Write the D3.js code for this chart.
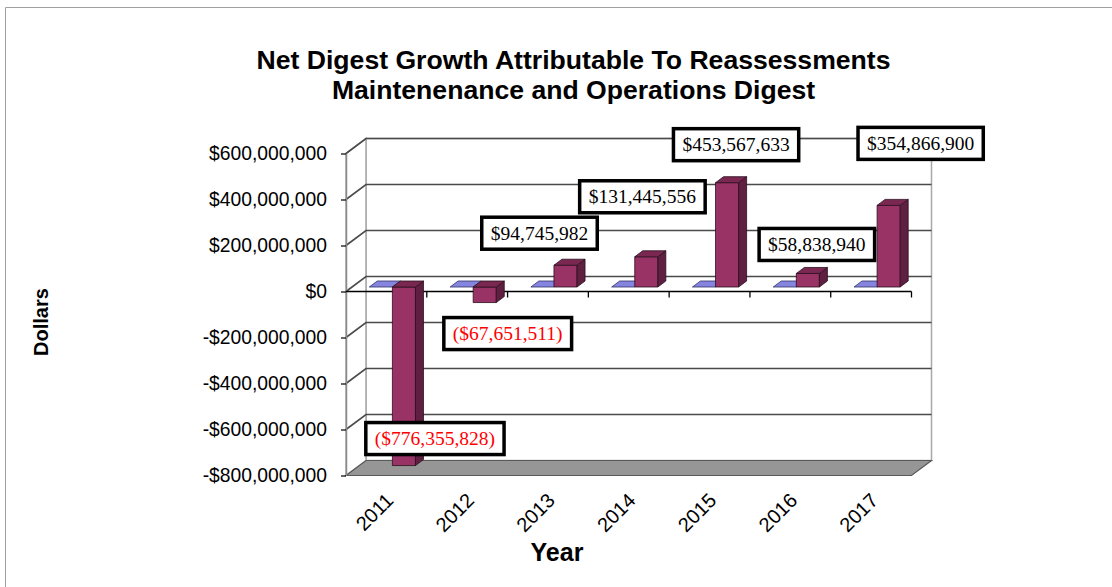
<!DOCTYPE html>
<html>
<head>
<meta charset="utf-8">
<script src="https://cdn.jsdelivr.net/npm/d3@7"></script>
<style>
  html, body { margin: 0; padding: 0; background: #fff; }
  svg { display: block; }
</style>
</head>
<body>
<svg id="chart" width="1112" height="587"></svg>
<script>
// ---- data ----
const years = ["2011", "2012", "2013", "2014", "2015", "2016", "2017"];
const baseSeries = [0, 0, 0, 0, 0, 0, 0];
const growthSeries = [-776355828, -67651511, 94745982, 131445556, 453567633, 58838940, 354866900];
const yTicks = [-800000000, -600000000, -400000000, -200000000, 0, 200000000, 400000000, 600000000];
const titleLines = ["Net Digest Growth Attributable To Reassessments", "Maintenenance and Operations Digest"];

// hand-placed label offsets (px) from the end of each bar's front face
const labelNudge = [[31, -27], [23, 31], [-26, -32], [-4, -60], [9, -38], [9, -29], [32, -62]];

// ---- layout ----
const W = 1112, H = 587;
const frontLeft = 346, frontRight = 911.5;
const DX = 20, DY = 15;          // depth offset of the back wall
const barD0 = 0.3, barD1 = 0.7;  // depth slab occupied by the columns

const svg = d3.select("#chart");

const y = d3.scaleLinear().domain([yTicks[0], yTicks[yTicks.length - 1]]).range([475.5, 153.5]);
const x = d3.scaleBand().domain(years).range([frontLeft, frontRight]).paddingInner(0).paddingOuter(0);
const series = ["base", "growth"];
const xs = d3.scaleBand().domain(series).range([0, x.bandwidth()]).paddingInner(0).paddingOuter(0.75);

const P = (px, v, d) => [px + d * DX, y(v) - d * DY];
const poly = pts => "M" + pts.map(p => p.join(",")).join("L") + "Z";

const vMin = y.domain()[0], vMax = y.domain()[1];

// outer chart border
svg.append("path")
  .attr("d", `M5.5,${H}V7.5H${W}`)
  .attr("fill", "none").attr("stroke", "#a0a0a0").attr("stroke-width", 1);

// back wall
svg.append("path")
  .attr("d", poly([P(frontLeft, vMax, 1), P(frontRight, vMax, 1), P(frontRight, vMin, 1), P(frontLeft, vMin, 1)]))
  .attr("fill", "#fff").attr("stroke", "#a8a8a8").attr("stroke-width", 1.5);

// side wall
svg.append("path")
  .attr("d", poly([P(frontLeft, vMax, 0), P(frontLeft, vMax, 1), P(frontLeft, vMin, 1), P(frontLeft, vMin, 0)]))
  .attr("fill", "#fff").attr("stroke", "#a8a8a8").attr("stroke-width", 1.5);

// gridlines on side + back wall
svg.append("g").selectAll("path")
  .data(yTicks.filter(v => v > vMin))
  .join("path")
  .attr("d", v => "M" + [P(frontLeft, v, 0), P(frontLeft, v, 1), P(frontRight, v, 1)].map(p => p.join(",")).join("L"))
  .attr("fill", "none").attr("stroke", "#4a4a4a").attr("stroke-width", 1.6);

// floor
svg.append("path")
  .attr("d", poly([P(frontLeft, vMin, 0), P(frontRight, vMin, 0), P(frontRight, vMin, 1), P(frontLeft, vMin, 1)]))
  .attr("fill", "#969696").attr("stroke", "#5a5a5a").attr("stroke-width", 1.2);

// value axis
const fmtDollar = v => (v < 0 ? "-$" : "$") + d3.format(",")(Math.abs(v));
const yAxis = svg.append("g")
  .attr("transform", `translate(${frontLeft},0)`)
  .call(d3.axisLeft(y).tickValues(yTicks).tickFormat(fmtDollar).tickSize(5).tickSizeOuter(0).tickPadding(14));
yAxis.select(".domain").attr("stroke", "#8a8a8a").attr("stroke-width", 1.5);
yAxis.selectAll(".tick line").attr("stroke", "#000").attr("stroke-width", 1.2);
yAxis.selectAll(".tick text")
  .attr("font-family", "'Liberation Sans', Arial, sans-serif")
  .attr("font-size", 19.3).attr("fill", "#000");

// category axis along the zero line
const y0 = y(0);
svg.append("line")
  .attr("x1", frontLeft).attr("x2", frontRight)
  .attr("y1", y0).attr("y2", y0)
  .attr("stroke", "#000").attr("stroke-width", 1.3);
svg.append("g").selectAll("line")
  .data(years)
  .join("line")
  .attr("x1", d => x(d) + x.bandwidth()).attr("x2", d => x(d) + x.bandwidth())
  .attr("y1", y0).attr("y2", y0 + 6)
  .attr("stroke", "#000").attr("stroke-width", 1.3);

// columns
const colors = {
  base: { front: "#8585e0", top: "#8585e0", side: "#5c5cb0" },
  growth: { front: "#993366", top: "#7a2852", side: "#5e1f40" }
};

function drawColumn(g, key, year, v) {
  const x0 = x(year) + xs(key), x1 = x0 + xs.bandwidth();
  const hi = Math.max(v, 0), lo = Math.min(v, 0);
  const c = colors[key];
  const stroke = "#2a0f1e";
  if (hi !== lo) {
    g.append("path")
      .attr("d", poly([P(x0, hi, barD0), P(x1, hi, barD0), P(x1, lo, barD0), P(x0, lo, barD0)]))
      .attr("fill", c.front).attr("stroke", stroke).attr("stroke-width", 0.8);
    g.append("path")
      .attr("d", poly([P(x1, hi, barD0), P(x1, hi, barD1), P(x1, lo, barD1), P(x1, lo, barD0)]))
      .attr("fill", c.side).attr("stroke", stroke).attr("stroke-width", 0.8);
  }
  g.append("path")
    .attr("d", poly([P(x0, hi, barD0), P(x1, hi, barD0), P(x1, hi, barD1), P(x0, hi, barD1)]))
    .attr("fill", c.top).attr("stroke", key === "base" ? "#30306a" : stroke).attr("stroke-width", 0.8);
}

const bars = svg.append("g");
years.forEach((yr, i) => {
  drawColumn(bars, "base", yr, baseSeries[i]);
  drawColumn(bars, "growth", yr, growthSeries[i]);
});

// category labels
svg.append("g").selectAll("text")
  .data(years)
  .join("text")
  .attr("transform", d => `translate(${x(d) + x.bandwidth() / 2 - 2},${y(vMin) + 16}) rotate(-45)`)
  .attr("text-anchor", "end")
  .attr("dy", "0.72em")
  .attr("font-family", "'Liberation Sans', Arial, sans-serif")
  .attr("font-size", 20)
  .text(d => d);

// data labels
const fmtLabel = v => v < 0 ? "($" + d3.format(",")(-v) + ")" : "$" + d3.format(",")(v);
const labels = svg.append("g");
years.forEach((yr, i) => {
  const v = growthSeries[i];
  const cx = x(yr) + xs("growth") + xs.bandwidth() / 2 + barD0 * DX + labelNudge[i][0];
  const cy = y(v) - barD0 * DY + labelNudge[i][1];
  const g = labels.append("g").attr("transform", `translate(${cx},${cy})`);
  const t = g.append("text")
    .attr("text-anchor", "middle")
    .attr("dy", "0.34em")
    .attr("font-family", "'Liberation Serif', 'Times New Roman', serif")
    .attr("font-size", 19.5)
    .attr("fill", v < 0 ? "#ff0000" : "#000")
    .text(fmtLabel(v));
  const bb = t.node().getBBox();
  g.insert("rect", "text")
    .attr("x", bb.x - 9).attr("y", -16)
    .attr("width", bb.width + 18).attr("height", 32)
    .attr("fill", "#fff").attr("stroke", "#000").attr("stroke-width", 3.5);
});

// titles
svg.append("g").selectAll("text")
  .data(titleLines)
  .join("text")
  .attr("x", 573.5).attr("y", (d, i) => 69 + i * 30)
  .attr("text-anchor", "middle")
  .attr("font-family", "'Liberation Sans', Arial, sans-serif")
  .attr("font-weight", "bold").attr("font-size", 26.6)
  .text(d => d);

svg.append("text")
  .attr("transform", "translate(48,322) rotate(-90)")
  .attr("text-anchor", "middle")
  .attr("font-family", "'Liberation Sans', Arial, sans-serif")
  .attr("font-weight", "bold").attr("font-size", 20)
  .text("Dollars");

svg.append("text")
  .attr("x", 557).attr("y", 561)
  .attr("text-anchor", "middle")
  .attr("font-family", "'Liberation Sans', Arial, sans-serif")
  .attr("font-weight", "bold").attr("font-size", 25)
  .text("Year");
</script>
</body>
</html>
